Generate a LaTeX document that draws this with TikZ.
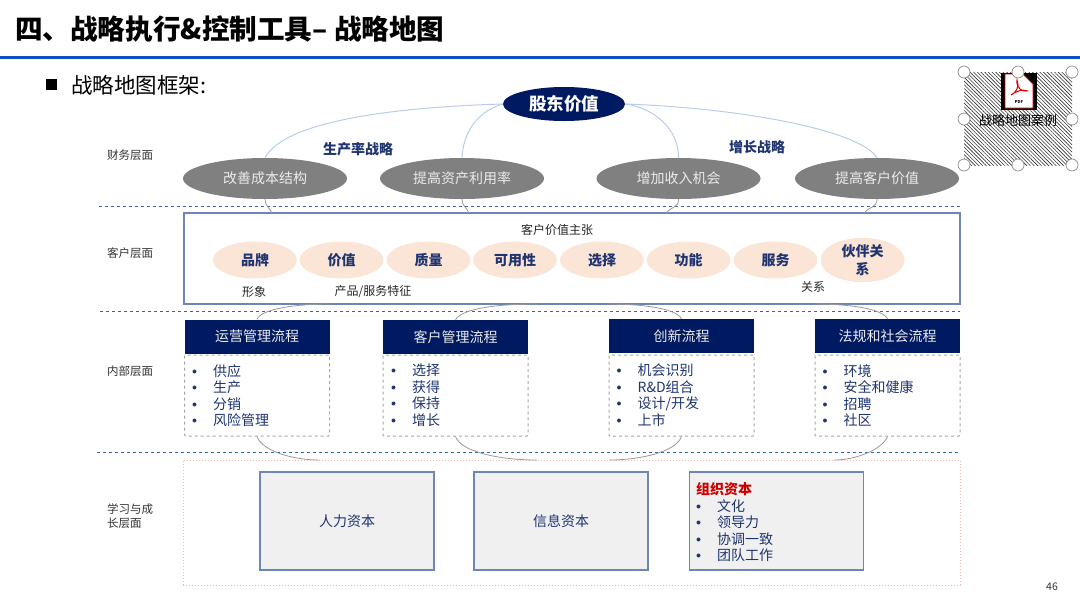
\documentclass[tikz,border=0pt]{standalone}
\usepackage{fontspec}
\setmainfont{Noto Sans CJK SC}
\usepackage{xcolor}
\usetikzlibrary{arrows.meta,positioning,shapes.geometric,patterns.meta,calc}
\definecolor{navy}{HTML}{001A62}
\definecolor{ink}{HTML}{1F3470}
\definecolor{rule}{HTML}{0B50C8}
\definecolor{tier}{HTML}{41609C}
\definecolor{frame}{HTML}{6D86B5}
\definecolor{peach}{HTML}{FBE5D6}
\definecolor{sky}{HTML}{B9CCEA}
\definecolor{blush}{HTML}{FFB4B4}
\newcommand{\vfont}[1]{\fontsize{#1}{#1}\selectfont}
\newcommand{\vdot}{\makebox[21pt][l]{\vfont{10}\raisebox{2pt}{$\bullet$}}}
\tikzset{
  vtop/.style={ellipse,fill=navy,text=white,inner sep=0pt,minimum width=122pt,minimum height=34pt,font=\vfont{17.5}\bfseries},
  vgoal/.style={ellipse,fill=black!50,text=white!92!black,inner sep=0pt,minimum width=164pt,minimum height=41pt,font=\vfont{14}},
  vvalue/.style={ellipse,fill=peach,text=ink,inner sep=0pt,minimum width=84pt,minimum height=37pt,align=center,font=\fontsize{14}{18}\selectfont\bfseries},
  vhead/.style={fill=navy,text=white!92!black,inner sep=0pt,minimum width=145pt,minimum height=34pt,font=\vfont{14}},
  vdash/.style={draw=black!35,dashed,line width=1pt,rounded corners=1pt,minimum width=145pt,minimum height=81pt,inner sep=0pt},
  vcap/.style={draw=frame,line width=1.1pt,fill=black!6,minimum width=174pt,minimum height=98pt,inner sep=0pt},
  vlist/.style={anchor=north west,text=ink,align=left,inner sep=0pt,font=\fontsize{14}{16.5}\selectfont},
  vtier/.style={anchor=west,text=black!80,inner sep=0pt,align=left,font=\fontsize{11.5}{14}\selectfont},
  vnote/.style={text=black!85,inner sep=0pt,font=\vfont{12}},
  vstrat/.style={text=ink,inner sep=0pt,font=\vfont{14}\bfseries},
  vsplit/.style={draw=tier,dashed,line width=1pt},
  vsky/.style={draw=sky,line width=1pt},
  vlink/.style={draw=black!40,line width=0.8pt},
  vgrip/.style={circle,draw=black!45,fill=white,line width=0.7pt,minimum size=12pt,inner sep=0pt}
}
\begin{document}
\begin{tikzpicture}[x=1pt,y=-1pt]
  \useasboundingbox (0,0) rectangle (1080,606);
  \node[anchor=west,inner sep=0pt,font=\vfont{27.6}\bfseries] (title) at (15,29) {四、战略执行\&控制工具– 战略地图};
  \draw[draw=rule,line width=2.6pt] (0,57.5) -- (1080,57.5);
  \fill[black] (46,79) rectangle (57,90);
  \node[anchor=west,inner sep=0pt,font=\vfont{21.5}] (sub) at (71,85) {战略地图框架:};

  \draw[vsplit] (99,206.5) -- (960,206.5);
  \draw[vsplit] (100,311.5) -- (960,311.5);
  \draw[vsplit] (97,452) -- (960,452);

  \node[vtier] (t1) at (107,155) {财务层面};
  \node[vtier] (t2) at (107,253) {客户层面};
  \node[vtier] (t3) at (107,371) {内部层面};
  \node[vtier] (t4) at (107,516) {学习与成\\长层面};

  \node[vtop] (holder) at (564,104) {股东价值};
  \node[vgoal] (cost) at (265,178.5) {改善成本结构};
  \node[vgoal] (asset) at (462,178.5) {提高资产利用率};
  \node[vgoal] (income) at (678.5,178.5) {增加收入机会};
  \node[vgoal] (client) at (877,178.5) {提高客户价值};
  \node[vstrat] (prod) at (358,149.5) {生产率战略};
  \node[vstrat] (grow) at (757,147.5) {增长战略};
  \draw[vsky] (holder.west) .. controls (400,107) and (285,120) .. (cost.north);
  \draw[vsky] (holder.west) .. controls (475,112) and (463,135) .. (asset.north);
  \draw[vsky] (holder.east) .. controls (655,108) and (679,130) .. (income.north);
  \draw[vsky] (holder.east) .. controls (740,108) and (860,130) .. (client.north);

  \node[draw=frame,line width=1.1pt,minimum width=776pt,minimum height=91pt,inner sep=0pt] (offer) at (572,258.5) {};
  \node[vnote] (offertxt) at (557,229.5) {客户价值主张};
  \foreach \name/\px/\txt in {brand/255/品牌,price/341.5/价值,quality/428.5/质量,avail/515/可用性,choice/602/选择,func/688.5/功能,serv/775.5/服务}{
    \node[vvalue] (\name) at (\px,260) {\txt};
  }
  \node[vvalue] (partner) at (862.5,260) {伙伴关\\系};
  \node[vnote] (image) at (254,291.5) {形象};
  \node[vnote] (feature) at (373,291.5) {产品/服务特征};
  \node[vnote] (relation) at (813,287) {关系};

  \node[vhead] (ops) at (257,336.5) {运营管理流程};
  \node[vhead] (crm) at (455.5,337) {客户管理流程};
  \node[vhead] (inno) at (681.5,336) {创新流程};
  \node[vhead] (law) at (887.5,336) {法规和社会流程};
  \node[vdash] (opsbox) at (257,395.5) {};
  \node[vdash] (crmbox) at (455.5,395.5) {};
  \node[vdash] (innobox) at (681.5,395.5) {};
  \node[vdash] (lawbox) at (887.5,395.5) {};
  \node[vlist] (opslist) at (192,364) {\vdot 供应\\\vdot 生产\\\vdot 分销\\\vdot 风险管理};
  \node[vlist] (crmlist) at (391,364) {\vdot 选择\\\vdot 获得\\\vdot 保持\\\vdot 增长};
  \node[vlist] (innolist) at (616.5,364) {\vdot 机会识别\\\vdot R\&D组合\\\vdot 设计/开发\\\vdot 上市};
  \node[vlist] (lawlist) at (822.5,364) {\vdot 环境\\\vdot 安全和健康\\\vdot 招聘\\\vdot 社区};

  \node[draw=blush,dotted,line width=1pt,minimum width=777pt,minimum height=125pt,inner sep=0pt] (learn) at (571.5,522.5) {};
  \node[vcap,text=ink,font=\vfont{14}] (human) at (347,521) {人力资本};
  \node[vcap,text=ink,font=\vfont{14}] (info) at (561,521) {信息资本};
  \node[vcap] (org) at (776.5,521) {};
  \node[anchor=west,inner sep=0pt,text=red!80!black,font=\vfont{14}\bfseries] (orghead) at (696,489) {组织资本};
  \node[vlist] (orglist) at (696,499) {\vdot 文化\\\vdot 领导力\\\vdot 协调一致\\\vdot 团队工作};

  \coordinate (a1) at (272,213);
  \coordinate (a2) at (469,213);
  \coordinate (a3) at (666,213);
  \coordinate (a4) at (864,213);
  \coordinate (b1) at (328,304);
  \coordinate (b2) at (537,304);
  \coordinate (b3) at (609,304);
  \coordinate (b4) at (815,304);
  \coordinate (c1) at (319,460);
  \coordinate (c2) at (537,460);
  \coordinate (c3) at (609,460);
  \coordinate (c4) at (834,460);
  \draw[vlink] (cost.south) .. controls (265,206) and (270,208) .. (a1);
  \draw[vlink] (asset.south) .. controls (462,206) and (467,208) .. (a2);
  \draw[vlink] (income.south) .. controls (679,208) and (670,207) .. (a3);
  \draw[vlink] (client.south) .. controls (877,208) and (868,207) .. (a4);
  \draw[vlink] (ops.north) .. controls (262,308) and (300,304) .. (b1);
  \draw[vlink] (crm.north) .. controls (462,308) and (500,304) .. (b2);
  \draw[vlink] (inno.north) .. controls (676,308) and (640,304) .. (b3);
  \draw[vlink] (law.north) .. controls (882,308) and (846,304) .. (b4);
  \draw[vlink] (opsbox.south) .. controls (263,452) and (295,460) .. (c1);
  \draw[vlink] (crmbox.south) .. controls (461,452) and (500,460) .. (c2);
  \draw[vlink] (innobox.south) .. controls (676,452) and (640,460) .. (c3);
  \draw[vlink] (lawbox.south) .. controls (882,450) and (855,460) .. (c4);

  \node[minimum width=108pt,minimum height=93pt,inner sep=0pt,pattern={Lines[angle=-45,distance=2.6pt,line width=0.6pt]},pattern color=black!80] (pdf) at (1018,119) {};
  \fill[black] (1001,73) rectangle (1037,110);
  \fill[white,draw=red!85!black,line width=0.9pt] (1005,74) -- (1023,74) -- (1033,84) -- (1033,108) -- (1005,108) -- cycle;
  \draw[red!85!black,line width=1pt] (1011,95) .. controls (1016,93) and (1020,86) .. (1017,80) .. controls (1016,88) and (1022,92) .. (1028,91) .. controls (1023,89) and (1016,91) .. (1011,95);
  \node[inner sep=0pt,font=\vfont{4}\bfseries] (pdftag) at (1019,102) {PDF};
  \node[inner sep=0pt,font=\vfont{13}] (pdfname) at (1018,120.5) {战略地图案例};
  \foreach \px in {964,1018,1072}{
    \foreach \py in {72,165}{
      \node[vgrip] (g\px\py) at (\px,\py) {};
    }
  }
  \node[vgrip] (gl) at (964,119) {};
  \node[vgrip] (gr) at (1072,119) {};

  \node[inner sep=0pt,text=black!80,font=\vfont{10.5}] (page) at (1052,587) {46};
\end{tikzpicture}
\end{document}
